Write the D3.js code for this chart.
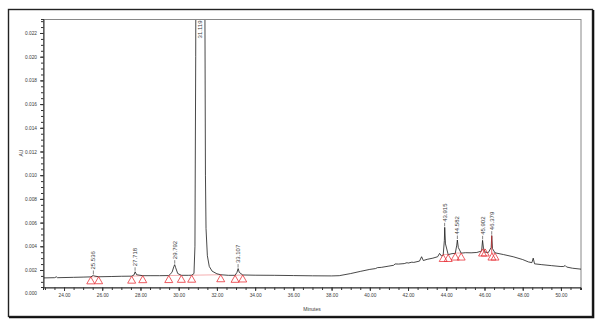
<!DOCTYPE html>
<html>
<head>
<meta charset="utf-8">
<script src="https://cdn.jsdelivr.net/npm/d3@7"></script>
<style>
  html, body { margin: 0; padding: 0; background: #fff; }
  svg { display: block; font-family: "Liberation Sans", Arial, sans-serif; }
</style>
</head>
<body>
<svg id="chart" width="599" height="326"></svg>
<script>
// Chromatogram trace: retention time (min) and absorbance (AU)
const traceTime = [
  22.90, 23.50, 23.60, 23.66, 24.50, 25.00, 25.40, 25.50, 25.54, 25.60, 25.81,
  26.50, 27.00, 27.54, 27.66, 27.72, 27.80, 28.12, 28.50, 29.00, 29.48, 29.65,
  29.75, 29.79, 29.84, 29.95, 30.14, 30.50, 30.68, 30.80, 30.85, 30.89, 30.95,
  31.12, 31.30, 31.36, 31.40, 31.43, 31.50, 31.60, 31.75, 32.00, 32.20, 32.60,
  32.95, 33.05, 33.11, 33.17, 33.35, 34.00, 35.00, 36.00, 37.00, 38.00, 38.40,
  39.00, 39.50, 40.00, 40.30, 40.40, 40.60, 41.00, 41.25, 41.32, 41.50, 41.80,
  41.95, 42.00, 42.20, 42.30, 42.60, 42.71, 42.80, 43.00, 43.30, 43.55, 43.65,
  43.75, 43.84, 43.90, 43.92, 43.96, 44.10, 44.30, 44.47, 44.55, 44.58, 44.63,
  44.78, 45.00, 45.30, 45.60, 45.85, 45.90, 45.95, 46.04, 46.20, 46.35, 46.38,
  46.42, 46.55, 47.00, 47.50, 48.00, 48.30, 48.48, 48.55, 48.62, 49.00, 49.50,
  50.00, 50.15, 50.22, 50.30, 50.60, 51.05
];
const traceAU = [
  0.00133, 0.00135, 0.00142, 0.00135, 0.00138, 0.00140, 0.00142, 0.00150, 0.00158, 0.00149, 0.00143,
  0.00145, 0.00147, 0.00148, 0.00158, 0.00185, 0.00160, 0.00152, 0.00152, 0.00152, 0.00153, 0.00180,
  0.00230, 0.00245, 0.00220, 0.00170, 0.00155, 0.00155, 0.00156, 0.00170, 0.00400, 0.02000, 0.06000,
  0.08500, 0.06000, 0.03000, 0.01000, 0.00550, 0.00320, 0.00230, 0.00190, 0.00168, 0.00160, 0.00155,
  0.00155, 0.00180, 0.00212, 0.00180, 0.00158, 0.00156, 0.00155, 0.00153, 0.00151, 0.00150, 0.00152,
  0.00170, 0.00188, 0.00205, 0.00212, 0.00220, 0.00222, 0.00233, 0.00240, 0.00251, 0.00250, 0.00254,
  0.00262, 0.00258, 0.00266, 0.00264, 0.00275, 0.00312, 0.00280, 0.00290, 0.00300, 0.00312, 0.00340,
  0.00318, 0.00325, 0.00450, 0.00560, 0.00420, 0.00330, 0.00338, 0.00340, 0.00410, 0.00453, 0.00390,
  0.00342, 0.00346, 0.00345, 0.00348, 0.00360, 0.00450, 0.00380, 0.00350, 0.00347, 0.00390, 0.00490,
  0.00380, 0.00345, 0.00330, 0.00312, 0.00288, 0.00268, 0.00262, 0.00300, 0.00252, 0.00245, 0.00237,
  0.00229, 0.00230, 0.00238, 0.00225, 0.00215, 0.00207
];

// Integrated peaks: labelled retention time and apex absorbance
const peakTime = [25.536, 27.718, 29.792, 31.119, 33.107, 43.915, 44.582, 45.902, 46.379];
const peakAU   = [0.00158, 0.00185, 0.00245, 0.08500, 0.00212, 0.00560, 0.00453, 0.00450, 0.00490];

// Integration start / end markers (pairs per peak)
const markerTime = [25.40, 25.81, 27.54, 28.12, 29.48, 30.14, 30.68, 32.20, 32.95, 33.35,
                    43.84, 44.10, 44.47, 44.78, 45.90, 46.04, 46.39, 46.55];
const markerAU   = [0.00142, 0.00143, 0.00148, 0.00152, 0.00153, 0.00155, 0.00156, 0.00160, 0.00155, 0.00158,
                    0.00331, 0.00331, 0.00343, 0.00343, 0.00377, 0.00377, 0.00343, 0.00343];

// Axis ticks
const xLabelTicks = [24, 26, 28, 30, 32, 34, 36, 38, 40, 42, 44, 46, 48, 50];
const yLabelTicks = [0.002, 0.004, 0.006, 0.008, 0.010, 0.012, 0.014, 0.016, 0.018, 0.020, 0.022];

const svg = d3.select("#chart");
const plot = { left: 43, top: 19, right: 581, bottom: 287 };

const x = d3.scaleLinear().domain([22.90, 51.05]).range([plot.left, plot.right]);
const y = d3.scaleLinear().domain([0.000565, 0.023181]).range([plot.bottom, plot.top]);

// Outer frame with a heavier right/bottom edge
svg.append("rect").attr("x", 8.5).attr("y", 9.5).attr("width", 584).attr("height", 307)
  .attr("fill", "#fff").attr("stroke", "#222").attr("stroke-width", 1.4);
svg.append("path").attr("d", "M593.5,10 V317.5 H9")
  .attr("fill", "none").attr("stroke", "#111").attr("stroke-width", 1.6);

// Plot box
svg.append("rect").attr("x", plot.left + 0.5).attr("y", plot.top + 0.5)
  .attr("width", plot.right - plot.left - 0.5).attr("height", plot.bottom - plot.top)
  .attr("fill", "none").attr("stroke", "#888").attr("stroke-width", 1);

const labelColor = "#3a3a3a";

// X axis: minor ticks every 0.5 min, labelled ticks every 2 min
const xMinor = d3.range(23, 51.01, 0.5);
svg.append("g").attr("transform", `translate(0,${plot.bottom + 0.5})`)
  .call(d3.axisBottom(x).tickValues(xMinor).tickSize(2.5).tickFormat(""))
  .call(g => g.select(".domain").attr("stroke", "#333"))
  .call(g => g.selectAll(".tick line").attr("stroke", "#333"));
svg.append("g").attr("transform", `translate(0,${plot.bottom + 0.5})`)
  .call(d3.axisBottom(x).tickValues(xLabelTicks).tickSize(3.5).tickPadding(3).tickFormat(d3.format(".2f")))
  .call(g => g.select(".domain").remove())
  .call(g => g.selectAll(".tick line").attr("stroke", "#333"))
  .call(g => g.selectAll(".tick text").attr("fill", labelColor).style("font-size", "4.8px"));

// Y axis: minor ticks every 0.0005 AU, labelled ticks every 0.002 AU
const yMinor = d3.range(0.001, 0.0231, 0.0005);
svg.append("g").attr("transform", `translate(${plot.left + 0.5},0)`)
  .call(d3.axisLeft(y).tickValues(yMinor).tickSize(2.5).tickFormat(""))
  .call(g => g.select(".domain").attr("stroke", "#333"))
  .call(g => g.selectAll(".tick line").attr("stroke", "#333"));
svg.append("g").attr("transform", `translate(${plot.left + 0.5},0)`)
  .call(d3.axisLeft(y).tickValues(yLabelTicks).tickSize(3.5).tickPadding(3).tickFormat(d3.format(".3f")))
  .call(g => g.select(".domain").remove())
  .call(g => g.selectAll(".tick line").attr("stroke", "#333"))
  .call(g => g.selectAll(".tick text").attr("fill", labelColor).style("font-size", "4.8px"));
// zero label sits below the time axis
svg.append("text").attr("x", plot.left - 6).attr("y", y(0)).attr("dy", "0.32em")
  .attr("text-anchor", "end").attr("fill", labelColor).style("font-size", "4.8px")
  .text(d3.format(".3f")(0));

// Axis titles
svg.append("text").attr("x", 312).attr("y", 311).attr("text-anchor", "middle")
  .attr("fill", labelColor).style("font-size", "5px").text("Minutes");
svg.append("text").attr("transform", `translate(23,153) rotate(-90)`).attr("text-anchor", "middle")
  .attr("fill", labelColor).style("font-size", "5px").text("AU");

// Clip region for data marks
svg.append("clipPath").attr("id", "plotClip").append("rect")
  .attr("x", plot.left + 1).attr("y", plot.top + 1)
  .attr("width", plot.right - plot.left - 1).attr("height", plot.bottom - plot.top - 1);

const dataG = svg.append("g").attr("clip-path", "url(#plotClip)");

// Baselines under integrated peaks
const red = "#e8343a";
const pairs = d3.range(0, markerTime.length, 2);
dataG.selectAll("line.base").data(pairs).join("line")
  .attr("x1", i => x(markerTime[i])).attr("y1", i => y(markerAU[i]))
  .attr("x2", i => x(markerTime[i + 1])).attr("y2", i => y(markerAU[i + 1]))
  .attr("stroke", "#f39a9c").attr("stroke-width", 0.8);

// Trace
const pts = traceTime.map((t, i) => [t, traceAU[i]]);
dataG.append("path").datum(pts)
  .attr("d", d3.line().x(d => x(d[0])).y(d => y(d[1])))
  .attr("fill", "none").attr("stroke", "#1a1a1a").attr("stroke-width", 0.8)
  .attr("stroke-linejoin", "round");

// Drop line on the last peak
const lastPeak = peakTime.length - 1;
dataG.append("line")
  .attr("x1", x(peakTime[lastPeak])).attr("x2", x(peakTime[lastPeak]))
  .attr("y1", y(peakAU[lastPeak])).attr("y2", y(markerAU[16]))
  .attr("stroke", red).attr("stroke-width", 0.8);

// Integration markers: open triangles hanging below the trace
dataG.selectAll("path.marker").data(markerTime.map((t, i) => [t, markerAU[i]])).join("path")
  .attr("d", d => {
    const cx = x(d[0]), cy = y(d[1]);
    return `M${cx},${cy} L${cx + 4},${cy + 7} L${cx - 4},${cy + 7} Z`;
  })
  .attr("fill", "none").attr("stroke", red).attr("stroke-width", 0.8);

// Peak retention-time labels
const peakG = svg.append("g").attr("clip-path", "url(#plotClip)");
peakTime.forEach((t, i) => {
  const px = x(t);
  const apex = y(peakAU[i]);
  if (apex < plot.top + 20) {
    peakG.append("text")
      .attr("transform", `translate(${px + 2},${plot.top + 1.5}) rotate(-90)`)
      .attr("text-anchor", "end").attr("fill", labelColor).style("font-size", "6px")
      .text(d3.format(".3f")(t));
  } else {
    peakG.append("line").attr("x1", px).attr("x2", px)
      .attr("y1", apex - 1).attr("y2", apex - 4.5)
      .attr("stroke", "#333").attr("stroke-width", 0.6);
    peakG.append("text")
      .attr("transform", `translate(${px + 2},${apex - 5.5}) rotate(-90)`)
      .attr("text-anchor", "start").attr("fill", labelColor).style("font-size", "6px")
      .text(d3.format(".3f")(t));
  }
});
</script>
</body>
</html>
